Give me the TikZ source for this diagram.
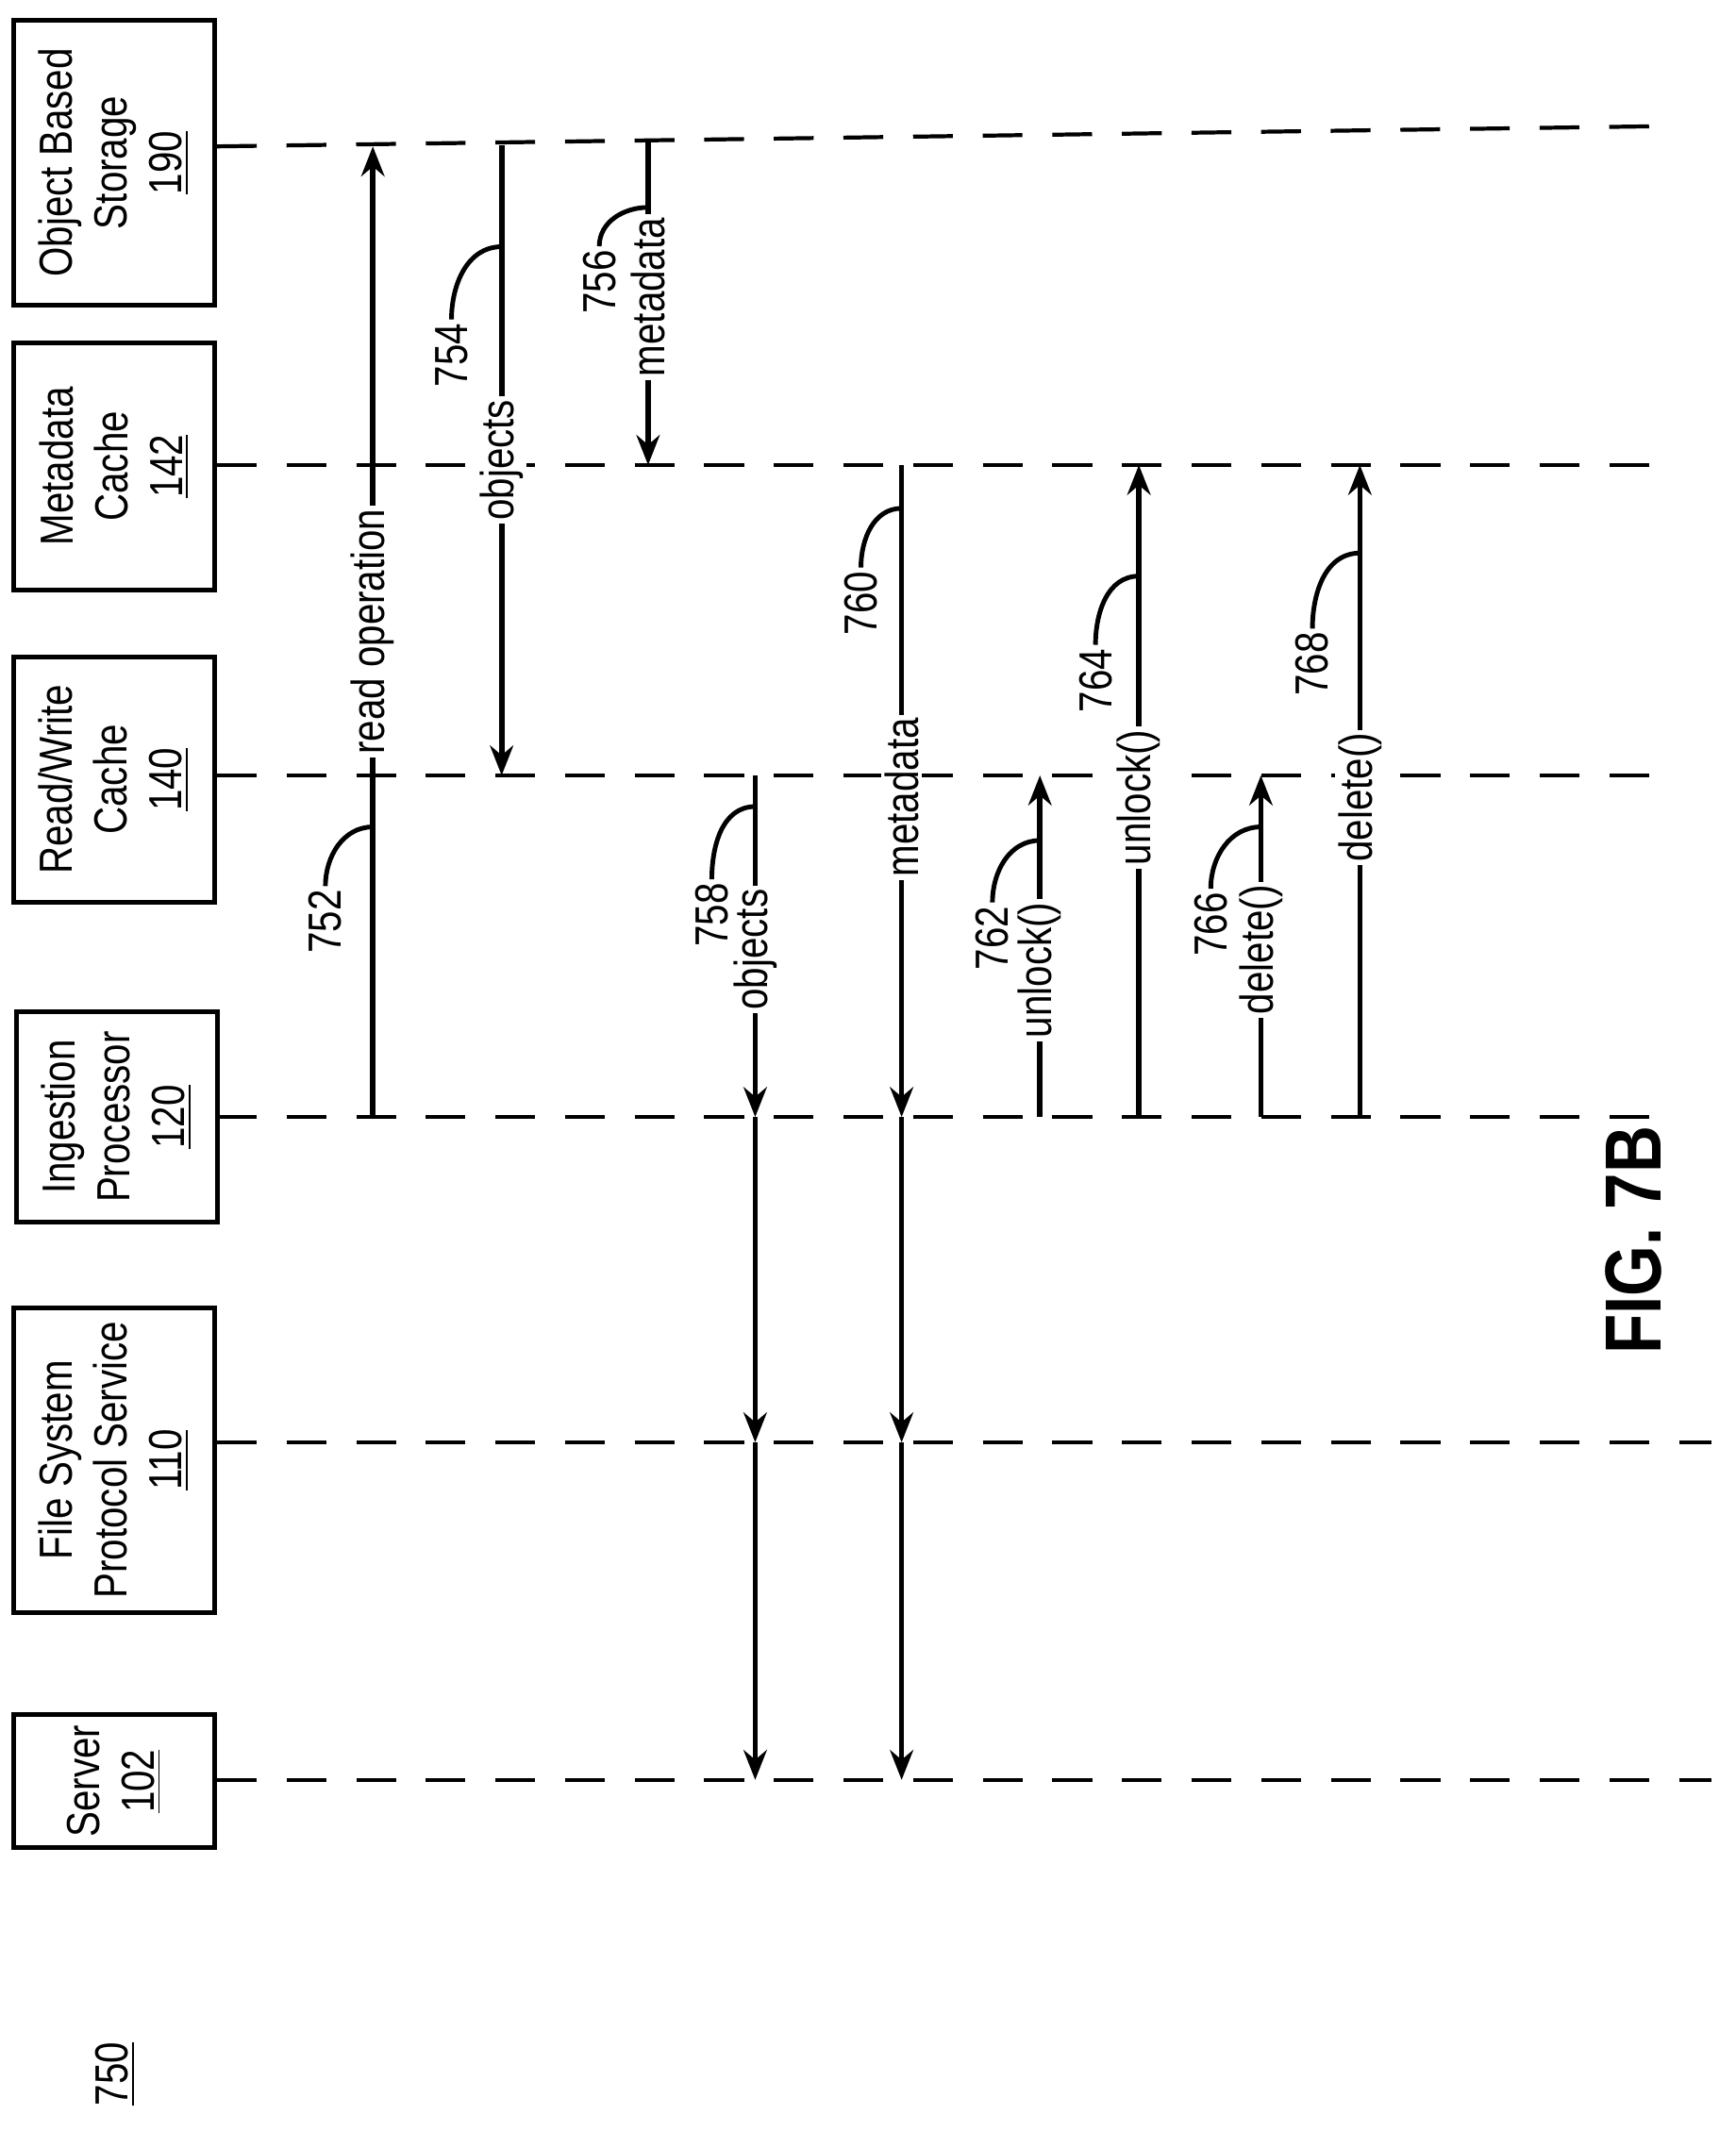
\documentclass[tikz,border=0pt]{standalone}
\usepackage{fontspec}
\setmainfont{Liberation Sans}[FakeStretch=0.82]
\usetikzlibrary{arrows.meta,positioning}
\tikzset{
  box/.style={draw, line width=1.4pt, rotate=90, minimum height=2.13cm,
    align=center, font=\fontsize{14}{16.5}\selectfont, inner sep=0pt},
  life/.style={line width=1.2pt, dash pattern=on 12pt off 9pt},
  msg/.style={line width=1.6pt, -{Stealth[length=9pt,width=7pt]}},
  plain/.style={line width=1.6pt},
  lbl/.style={rotate=90, fill=white, inner sep=1pt, font=\fontsize{14}{16}\selectfont},
  refno/.style={rotate=90, inner sep=1pt, font=\fontsize{14}{16}\selectfont},
  lead/.style={line width=1.4pt},
}
\begin{document}
\begin{tikzpicture}[x=0.01437cm, y=-0.01437cm]
  \useasboundingbox (0,0) rectangle (1280,1572);

  % participants
  \node[box, minimum width=3.02cm] (obs) at (84,120) {Object Based\\Storage\\\underline{190}};
  \node[box, minimum width=2.62cm] (mdc) at (84,344) {Metadata\\Cache\\\underline{142}};
  \node[box, minimum width=2.60cm] (rwc) at (84,575) {Read/Write\\Cache\\\underline{140}};
  \node[box, minimum width=2.23cm] (ing) at (86,824) {Ingestion\\Processor\\\underline{120}};
  \node[box, minimum width=3.23cm] (fsp) at (84,1077) {File System\\Protocol Service\\\underline{110}};
  \node[box, minimum width=1.41cm] (srv) at (84,1314) {Server\\\underline{102}};

  % lifelines
  \draw[life] (160,108) -- (1232,93);
  \foreach \y/\r in {343/1232, 572/1232, 824/1235, 1064/1262, 1313/1262}
    \draw[life] (160,\y) -- (\r,\y);

  % points on the lifelines
  \coordinate (s752) at (275,824);  \coordinate (e752) at (275,108);
  \coordinate (s754) at (370,107);  \coordinate (e754) at (370,572);
  \coordinate (s756) at (478,105);  \coordinate (e756) at (478,343);
  \coordinate (s758) at (557,572);  \coordinate (a758) at (557,824);
  \coordinate (b758) at (557,1064); \coordinate (e758) at (557,1313);
  \coordinate (s760) at (665,343);  \coordinate (a760) at (665,824);
  \coordinate (b760) at (665,1064); \coordinate (e760) at (665,1313);
  \coordinate (s762) at (767,824);  \coordinate (e762) at (767,572);
  \coordinate (s764) at (840,824);  \coordinate (e764) at (840,343);
  \coordinate (s766) at (930,824);  \coordinate (e766) at (930,572);
  \coordinate (s768) at (1003,824); \coordinate (e768) at (1003,343);

  % messages
  \draw[msg] (s752) -- node[lbl, pos=0.5] {read operation} (e752);
  \draw[msg] (s754) -- node[lbl, pos=0.5] {objects} (e754);
  \draw[msg] (s756) -- node[lbl, pos=0.48] {metadata} (e756);
  \draw[msg] (s758) -- node[lbl, pos=0.51] {objects} (a758);
  \draw[msg] (a758) -- (b758);
  \draw[msg] (b758) -- (e758);
  \draw[msg] (s760) -- node[lbl, pos=0.51] {metadata} (a760);
  \draw[msg] (a760) -- (b760);
  \draw[msg] (b760) -- (e760);
  \draw[msg] (s762) -- node[lbl, pos=0.43] {unlock()} (e762);
  \draw[msg] (s764) -- node[lbl, pos=0.49] {unlock()} (e764);
  \draw[msg] (s766) -- node[lbl, pos=0.49] {delete()} (e766);
  \draw[msg] (s768) -- node[lbl, pos=0.49] {delete()} (e768);

  % reference numerals with leaders
  \foreach \n/\x/\y/\ly in {752/240/680/610, 754/333/262/182, 756/442/208/153,
      758/525/675/595, 760/635/445/375, 762/732/692/620, 764/808/502/425,
      766/893/682/610, 768/968/490/408} {
    \node[refno] (r\n) at (\x,\y) {\n};
  }
  \foreach \n/\lx/\ly in {752/275/610, 754/370/182, 756/478/153, 758/557/595,
      760/665/375, 762/767/620, 764/840/425, 766/930/610, 768/1003/408} {
    \coordinate (c\n) at (\lx,\ly);
    \draw[lead] (r\n.east) to[out=90, in=180] (c\n);
  }

  \node[rotate=90, font=\bfseries\fontsize{24}{28}\selectfont] (fig) at (1205,915) {FIG. 7B};
  \node[rotate=90, font=\fontsize{14}{16}\selectfont] (num) at (85,1530) {\underline{750}};
\end{tikzpicture}
\end{document}
